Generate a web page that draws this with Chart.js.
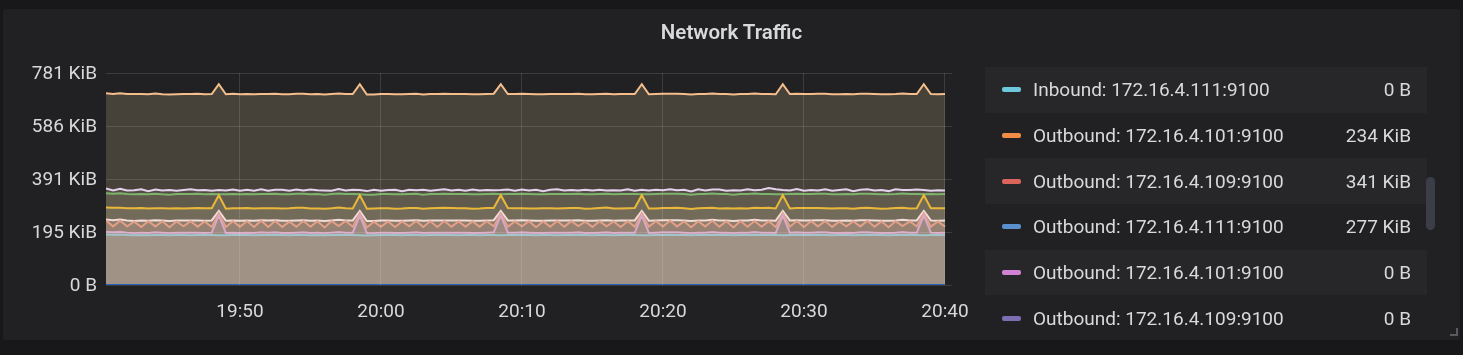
<!DOCTYPE html>
<html>
<head>
<meta charset="utf-8">
<title>Network Traffic</title>
<script src="https://cdn.jsdelivr.net/npm/chart.js@4.4.1/dist/chart.umd.min.js"></script>
<style>
  html, body { margin: 0; padding: 0; background: #18181a; }
  body { width: 1463px; height: 355px; position: relative; overflow: hidden; font-family: Roboto, sans-serif; }
  #panel { position: absolute; left: 3px; top: 9px; width: 1457px; height: 331px; background: #212124; border-radius: 3px; overflow: hidden; }
  #chart-box { position: absolute; left: 0; top: 0; width: 1457px; height: 331px; }
  #title { position: absolute; left: 0; top: 11px; width: 1457px; line-height: 24px; text-align: center; color: #d8d9da; font-size: 20.5px; font-weight: 600; }
  #legend { position: absolute; left: 982px; top: 58px; width: 442px; }
  .row { height: 45.7px; display: flex; align-items: center; padding: 0 16px 0 17px; box-sizing: border-box; color: #d8d9da; font-size: 19px; white-space: nowrap; }
  .row.alt { background: #27272a; }
  .swatch { width: 19px; height: 5px; border-radius: 2px; margin-right: 12px; flex: none; }
  .name { flex: 1; }
  .value { text-align: right; }
  #scroll-thumb { position: absolute; left: 1423px; top: 168px; width: 9px; height: 53px; border-radius: 5px; background: #3b3d48; }
  #resize { position: absolute; left: 1447px; top: 319px; width: 6px; height: 6px; border-right: 2px solid #5a5a5e; border-bottom: 2px solid #5a5a5e; }
</style>
</head>
<body>
<div id="panel">
  <div id="chart-box"><canvas id="traffic-chart"></canvas></div>
  <div id="title">Network Traffic</div>
  <div id="legend"></div>
  <div id="scroll-thumb"></div>
  <div id="resize"></div>
</div>
<script>
// Sampling: one point every 30 s
const sampleStart = '19:40:30';
const sampleStepSec = 30;
const sampleCount = 120;
const axisStart = '19:40:30';
const axisEnd = '20:40:30';

// Tick labels
const xTickLabels = ['19:50', '20:00', '20:10', '20:20', '20:30', '20:40'];
const yTickLabels = ['0 B', '195 KiB', '391 KiB', '586 KiB', '781 KiB'];
const yTickStepKiB = 195.3125;

// Series (stacked, KiB)
const seriesNames = [
  'Outbound: 172.16.4.111:9100',
  'Inbound: 172.16.4.111:9100',
  'Inbound: 172.16.4.101:9100',
  'Inbound: 172.16.4.109:9100',
  'Outbound: 172.16.4.101:9100',
  'Outbound: 172.16.4.109:9100',
  'Outbound: 172.16.4.111:9100',
  'Outbound: 172.16.4.101:9100',
  'Outbound: 172.16.4.109:9100'
];

const blueValues = [
  0,0,0,0,0,0,0,0,0,0,0,0,0,0,0,0,0,0,0,0,
  0,0,0,0,0,0,0,0,0,0,0,0,0,0,0,0,0,0,0,0,
  0,0,0,0,0,0,0,0,0,0,0,0,0,0,0,0,0,0,0,0,
  0,0,0,0,0,0,0,0,0,0,0,0,0,0,0,0,0,0,0,0,
  0,0,0,0,0,0,0,0,0,0,0,0,0,0,0,0,0,0,0,0,
  0,0,0,0,0,0,0,0,0,0,0,0,0,0,0,0,0,0,0,0
];
const lightBlueValues = [
  186,185,186,184,183,184,183,184,184,183,184,184,183,184,184,184,183,183,184,184,
  184,183,184,184,185,184,183,184,184,183,184,183,184,185,184,184,183,182,183,184,
  184,184,183,184,184,183,184,185,184,184,183,184,184,183,184,184,183,184,184,185,
  184,183,184,184,183,184,184,185,184,183,184,184,183,184,185,184,183,183,184,184,
  185,184,184,183,184,184,185,184,184,183,184,184,185,184,184,184,183,184,185,184,
  184,185,184,183,184,184,183,184,185,184,184,183,184,185,184,184,183,184,184,184
];
const pinkValues = [
  10,9,10,9,8,9,9,10,9,8,9,9,10,9,8,9,74,9,9,8,
  9,9,10,9,9,8,9,9,10,9,9,8,9,10,9,9,74,9,8,9,
  9,8,9,9,10,9,9,8,9,9,10,9,8,9,9,10,74,9,9,9,
  9,9,8,9,10,9,9,9,8,9,9,10,9,9,8,9,74,9,9,10,
  9,10,9,8,9,9,10,9,9,8,9,9,10,9,9,8,74,9,9,9,
  9,9,10,9,8,9,9,10,9,9,8,9,9,10,9,9,74,9,8,9
];
const salmonValues = [
  42,22,41,23,42,21,43,22,42,22,41,23,42,22,42,21,7,22,42,23,
  42,22,43,21,42,22,41,22,42,23,42,21,42,22,43,22,7,21,42,22,
  41,22,42,23,42,22,42,21,43,22,41,22,42,23,42,22,7,22,41,22,
  42,21,42,22,43,22,42,23,41,22,42,22,42,21,42,22,7,23,42,22,
  43,22,41,22,42,23,42,22,42,21,43,22,41,22,42,22,7,22,42,21,
  42,22,42,22,41,23,42,22,43,22,42,21,42,22,41,23,7,22,42,22
];
const whiteValues = [
  3,23,4,22,3,24,2,23,3,23,4,22,3,23,3,24,9,23,3,22,
  3,23,2,24,3,23,4,23,3,22,3,24,3,23,2,23,9,24,3,23,
  4,23,3,22,3,23,3,24,2,23,4,23,3,22,3,23,9,23,4,23,
  3,24,3,23,2,23,3,22,4,23,3,23,3,24,3,23,9,22,3,23,
  2,23,4,23,3,22,3,23,3,24,2,23,4,23,3,23,9,23,3,24,
  3,23,3,23,4,22,3,23,2,23,3,24,3,23,4,22,9,23,3,23
];
const yellowValues = [
  45,46,44,45,47,46,45,44,45,46,45,44,45,46,46,45,58,44,45,46,
  46,45,44,45,44,45,46,47,46,45,44,45,45,46,45,44,58,45,46,45,
  45,44,45,46,45,44,45,46,47,46,45,45,44,45,46,45,58,46,45,44,
  44,45,46,45,44,45,46,45,44,45,46,47,45,44,45,46,58,45,44,45,
  45,46,45,44,45,46,45,44,45,46,45,44,45,46,47,45,58,44,45,46,
  46,45,44,45,46,45,44,45,46,45,44,45,46,45,44,45,58,45,46,45
];
const greenValues = [
  52,51,53,52,51,51,52,53,51,51,52,53,52,52,51,52,3,53,52,51,
  51,52,52,52,53,52,51,51,51,52,53,52,52,51,52,53,3,52,51,52,
  52,53,52,51,52,52,52,51,51,51,52,52,53,52,51,52,3,51,52,53,
  53,52,51,52,53,52,51,52,53,52,51,50,52,53,52,51,3,52,53,52,
  52,51,52,53,52,51,52,53,52,51,52,53,52,51,50,52,3,53,52,51,
  51,52,53,52,51,52,53,52,51,52,53,52,51,52,53,52,3,52,51,52
];
const lavenderValues = [
  18,12,17,13,15,18,12,16,14,17,12,15,18,13,16,12,16,14,17,13,
  16,13,18,12,15,17,13,16,12,18,14,15,12,17,13,16,16,13,18,12,
  15,17,12,16,13,18,12,15,17,13,16,12,18,14,15,13,16,17,12,16,
  13,17,12,16,18,13,15,12,17,14,16,12,15,13,18,12,17,14,16,13,
  17,13,16,12,18,13,15,17,12,16,13,18,12,16,22,19,16,13,18,12,
  15,12,17,13,16,18,12,15,17,13,16,12,18,13,15,17,16,12,15,13
];
const peachValues = [
  351,356,352,356,355,351,357,354,355,352,356,354,351,356,353,357,390,355,353,356,
  353,356,351,357,354,352,356,353,357,351,355,354,357,352,356,353,390,356,351,357,
  354,352,357,353,356,351,357,354,352,356,353,357,351,355,354,356,390,352,357,353,
  356,352,357,353,351,356,354,357,352,355,353,357,354,356,351,357,389,355,353,356,
  352,356,353,357,351,356,354,352,357,353,356,351,357,353,347,350,390,356,351,357,
  354,357,352,356,353,351,357,354,352,356,353,357,351,356,354,352,390,357,354,356
];

const seriesValues = [blueValues, lightBlueValues, pinkValues, salmonValues, whiteValues,
  yellowValues, greenValues, lavenderValues, peachValues];

// Styles
const lineColors = ['#2062b4', '#a2c4ca', '#d8a8c6', '#e2a088', '#f2dcd8', '#eab839', '#7eb26d', '#e6d2ee', '#f5be8c'];
const fillColors = [null, '#a09285', '#9c8a80', '#978172', '#8e7b6b', '#726b59', '#605a4c', '#524d44', '#46423a'];

// Legend (visible rows of the scrolled table)
const legendNames = [
  'Inbound: 172.16.4.111:9100',
  'Outbound: 172.16.4.101:9100',
  'Outbound: 172.16.4.109:9100',
  'Outbound: 172.16.4.111:9100',
  'Outbound: 172.16.4.101:9100',
  'Outbound: 172.16.4.109:9100'
];
const legendValues = ['0 B', '234 KiB', '341 KiB', '277 KiB', '0 B', '0 B'];
const legendColors = ['#6ec8dc', '#f08c46', '#dc645a', '#5a91cd', '#d282d2', '#7d6eb4'];

function toSec(t) {
  const p = t.split(':').map(Number);
  return p[0] * 3600 + p[1] * 60 + (p[2] || 0);
}
function fmtTime(s) {
  const h = Math.floor(s / 3600);
  const m = Math.floor((s % 3600) / 60);
  return String(h).padStart(2, '0') + ':' + String(m).padStart(2, '0');
}

const sampleTimes = [];
for (let i = 0; i < sampleCount; i++) {
  sampleTimes.push(toSec(sampleStart) + i * sampleStepSec);
}

const datasets = seriesValues.map((values, i) => ({
  label: seriesNames[i],
  data: values,
  borderColor: lineColors[i],
  backgroundColor: fillColors[i] || 'transparent',
  borderWidth: 2,
  fill: i === 0 ? false : '-1',
  pointRadius: 0,
  tension: 0
}));

Chart.defaults.font.family = 'Roboto';
Chart.defaults.font.size = 19;
Chart.defaults.color = '#d8d9da';

const gridColor = 'rgba(255, 255, 255, 0.12)';

new Chart(document.getElementById('traffic-chart'), {
  type: 'line',
  data: { labels: sampleTimes, datasets: datasets },
  options: {
    responsive: true,
    maintainAspectRatio: false,
    animation: false,
    layout: { padding: { left: 7, right: 508, top: 64, bottom: 15 } },
    plugins: {
      legend: { display: false },
      tooltip: { enabled: false },
      title: { display: false }
    },
    scales: {
      x: {
        type: 'linear',
        min: toSec(axisStart),
        max: toSec(axisEnd),
        grid: { color: gridColor, drawTicks: false, z: 1 },
        border: { display: false },
        ticks: {
          padding: 16,
          maxRotation: 0,
          autoSkip: false,
          callback: (v) => fmtTime(v)
        },
        afterBuildTicks: (scale) => {
          scale.ticks = xTickLabels.map(t => ({ value: toSec(t) }));
        },
        afterFit: (scale) => { scale.height = 40; }
      },
      y: {
        stacked: true,
        min: 0,
        max: yTickStepKiB * (yTickLabels.length - 1),
        grid: { color: gridColor, drawTicks: false, z: 1 },
        border: { display: false },
        ticks: {
          padding: 9,
          labelOffset: 1.5,
          stepSize: yTickStepKiB,
          callback: (v, idx) => yTickLabels[idx]
        },
        afterFit: (scale) => { scale.width = 96; }
      }
    }
  }
});

// Legend table
const legendEl = document.getElementById('legend');
legendNames.forEach((name, i) => {
  const row = document.createElement('div');
  row.className = 'row' + (i % 2 === 0 ? ' alt' : '');
  const sw = document.createElement('span');
  sw.className = 'swatch';
  sw.style.background = legendColors[i];
  const nm = document.createElement('span');
  nm.className = 'name';
  nm.textContent = name;
  const val = document.createElement('span');
  val.className = 'value';
  val.textContent = legendValues[i];
  row.appendChild(sw);
  row.appendChild(nm);
  row.appendChild(val);
  legendEl.appendChild(row);
});
</script>
</body>
</html>
